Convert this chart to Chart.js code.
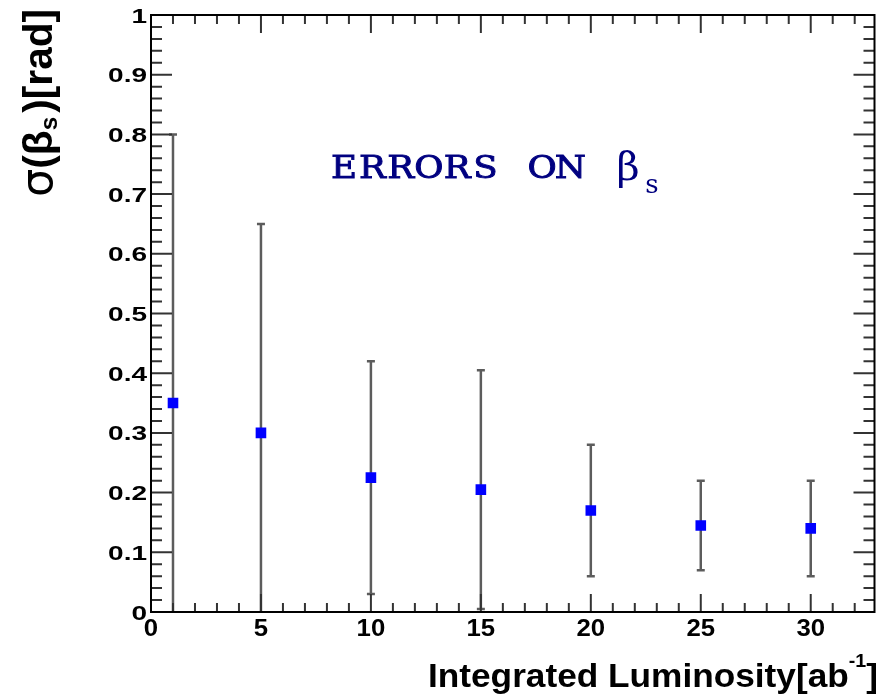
<!DOCTYPE html>
<html lang="en">
<head>
  <meta charset="UTF-8" />
  <title>Errors on beta_s</title>
  <script src="https://cdn.jsdelivr.net/npm/chart.js"></script>
  <style>
    html, body { margin: 0; padding: 0; background: #fff; }
    #wrap { width: 882px; height: 697px; position: relative; }
  </style>
</head>
<body>
  <div id="wrap"><canvas id="betaChart"></canvas></div>

  <script>
    // data
    const luminosity = [1, 5, 10, 15, 20, 25, 30];
    const sigmaBeta  = [0.35, 0.30, 0.225, 0.205, 0.17, 0.145, 0.14];
    const sigmaErr   = [0.45, 0.35, 0.195, 0.20, 0.11, 0.075, 0.08];

    const xTickLabels = ['0', '5', '10', '15', '20', '25', '30'];
    const yTickLabels = ['0', '0.1', '0.2', '0.3', '0.4', '0.5', '0.6', '0.7', '0.8', '0.9', '1'];

    const SANS = '"Liberation Sans", Arial, sans-serif';

    // ROOT-like frame, inside ticks, labels and error bars
    const rootStyle = {
      id: 'rootStyle',
      beforeDatasetsDraw(chart) {
        const { ctx, chartArea: a, scales: { x, y } } = chart;
        ctx.save();
        ctx.beginPath();
        ctx.rect(a.left, a.top, a.right - a.left, a.bottom - a.top);
        ctx.clip();
        ctx.strokeStyle = '#5c5c5c';
        ctx.lineWidth = 2.5;
        luminosity.forEach((lx, i) => {
          const px = x.getPixelForValue(lx);
          const hiV = sigmaBeta[i] + sigmaErr[i];
          const loV = sigmaBeta[i] - sigmaErr[i];
          const hi = y.getPixelForValue(Math.min(1, hiV));
          const lo = y.getPixelForValue(Math.max(0, loV));
          ctx.beginPath();
          ctx.moveTo(px, lo);
          ctx.lineTo(px, hi);
          if (hiV <= 1) { ctx.moveTo(px - 4, hi); ctx.lineTo(px + 4, hi); }
          if (loV >= 0) { ctx.moveTo(px - 4, lo); ctx.lineTo(px + 4, lo); }
          ctx.stroke();
        });
        ctx.restore();
      },
      afterDatasetsDraw(chart) {
        const { ctx, chartArea: a, scales: { x, y } } = chart;
        ctx.save();

        // ticks
        ctx.strokeStyle = '#333';
        ctx.lineWidth = 2;
        ctx.beginPath();
        for (let v = 0; v <= 32; v++) {
          const px = x.getPixelForValue(v);
          const len = v % 5 === 0 ? 18 : 9;
          ctx.moveTo(px, a.bottom); ctx.lineTo(px, a.bottom - len);
          ctx.moveTo(px, a.top); ctx.lineTo(px, a.top + len);
        }
        for (let i = 0; i <= 50; i++) {
          const py = y.getPixelForValue(i / 50);
          const len = i % 5 === 0 ? 21 : 11;
          ctx.moveTo(a.left, py); ctx.lineTo(a.left + len, py);
          ctx.moveTo(a.right, py); ctx.lineTo(a.right - len, py);
        }
        ctx.stroke();

        // frame
        ctx.strokeStyle = '#000';
        ctx.lineWidth = 2;
        ctx.strokeRect(a.left, a.top, a.right - a.left, a.bottom - a.top);

        // tick labels
        ctx.fillStyle = '#000';
        ctx.font = 'bold 23px ' + SANS;
        ctx.textAlign = 'center';
        ctx.textBaseline = 'middle';
        xTickLabels.forEach(t => {
          ctx.save();
          ctx.translate(x.getPixelForValue(+t), a.bottom + 18);
          ctx.scale(1.12, 1);
          ctx.fillText(t, 0, 0);
          ctx.restore();
        });
        ctx.font = 'bold 20px ' + SANS;
        ctx.textAlign = 'right';
        yTickLabels.forEach(t => {
          ctx.save();
          ctx.translate(a.left - 4, y.getPixelForValue(+t) + 2);
          ctx.scale(1.4, 1);
          ctx.fillText(t, 0, 0);
          ctx.restore();
        });

        // x axis title: Integrated Luminosity[ab^-1]
        ctx.textAlign = 'left';
        ctx.textBaseline = 'alphabetic';
        const big = 'bold 34px ' + SANS, small = 'bold 19px ' + SANS;
        ctx.font = big;
        const w1 = ctx.measureText('Integrated Luminosity[ab').width;
        const w3 = ctx.measureText(']').width;
        ctx.font = small;
        const w2 = ctx.measureText('-1').width;
        const sx = 450 / (w1 + w2 + w3);
        ctx.save();
        ctx.translate(428, 687);
        ctx.scale(sx, 1);
        ctx.font = big;
        ctx.fillText('Integrated Luminosity[ab', 0, 0);
        ctx.font = small;
        ctx.fillText('-1', w1, -20);
        ctx.font = big;
        ctx.fillText(']', w1 + w2, 0);
        ctx.restore();

        // y axis title: sigma(beta_s)[rad]
        const yBig = 'bold 40px ' + SANS, ySmall = 'bold 24px ' + SANS;
        const sigFont = '44px "DejaVu Sans", sans-serif';
        ctx.font = sigFont;
        const p0 = ctx.measureText('σ').width;
        ctx.font = yBig;
        const p1 = ctx.measureText('(β').width;
        const p3 = ctx.measureText(')[rad]').width;
        ctx.font = ySmall;
        const p2 = ctx.measureText('s').width;
        const sy = 184 / (p0 + p1 + p2 + p3);
        ctx.save();
        ctx.translate(52, 197);
        ctx.rotate(-Math.PI / 2);
        ctx.scale(sy, 1);
        ctx.font = sigFont;
        ctx.fillText('σ', 0, 0);
        ctx.font = yBig;
        ctx.fillText('(β', p0, 0);
        ctx.font = ySmall;
        ctx.fillText('s', p0 + p1, 5);
        ctx.font = yBig;
        ctx.fillText(')[rad]', p0 + p1 + p2 + 4, 0);
        ctx.restore();

        // in-plot label: ERRORS ON beta_s
        ctx.fillStyle = '#000080';
        ctx.strokeStyle = '#000080';
        ctx.lineWidth = 0.9;
        ctx.textAlign = 'center';
        ctx.font = '31px "DejaVu Serif", serif';
        const label = 'ERRORS ON';
        for (let i = 0; i < label.length; i++) {
          ctx.save();
          ctx.translate(344 + i * 28.3, 178);
          ctx.scale(1.15, 1);
          ctx.fillText(label[i], 0, 0);
          ctx.strokeText(label[i], 0, 0);
          ctx.restore();
        }
        ctx.font = '40px "DejaVu Serif", serif';
        ctx.fillText('β', 628, 180);
        ctx.font = '26px "DejaVu Serif", serif';
        ctx.fillText('s', 652, 193);

        ctx.restore();
      }
    };

    const ctx = document.getElementById('betaChart').getContext('2d');
    new Chart(ctx, {
      type: 'scatter',
      data: {
        datasets: [{
          label: 'sigma(beta_s)',
          data: luminosity.map((lx, i) => ({ x: lx, y: sigmaBeta[i] })),
          pointStyle: 'rect',
          pointRadius: 7.5,
          pointHoverRadius: 7.5,
          backgroundColor: '#0000ff',
          borderWidth: 0
        }]
      },
      options: {
        responsive: true,
        maintainAspectRatio: false,
        animation: false,
        layout: { padding: { left: 151, right: 4, top: 15, bottom: 85 } },
        scales: {
          x: { type: 'linear', min: 0, max: 32.9, display: false },
          y: { type: 'linear', min: 0, max: 1, display: false }
        },
        plugins: {
          legend: { display: false },
          tooltip: { enabled: false }
        }
      },
      plugins: [rootStyle]
    });
  </script>
</body>
</html>
